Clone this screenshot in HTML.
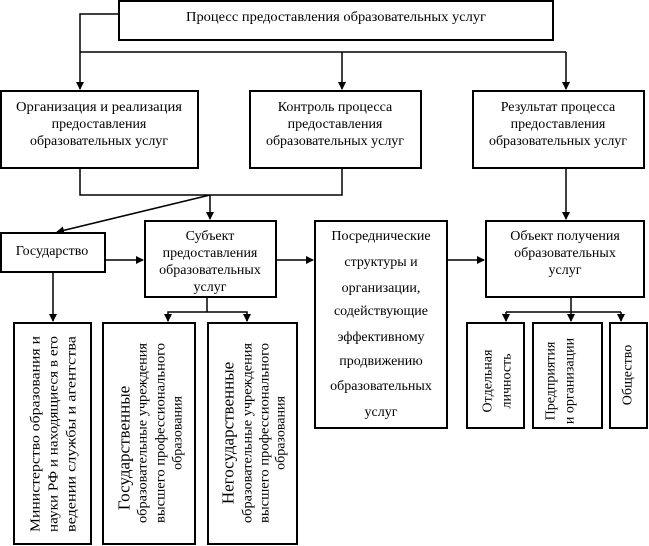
<!DOCTYPE html>
<html><head><meta charset="utf-8"><style>
html,body{margin:0;padding:0;background:#fff;}
svg{display:block;}
text{font-family:"Liberation Serif",serif;font-size:14px;fill:#000;}
</style></head><body>
<svg width="649" height="546" viewBox="0 0 649 546" xmlns="http://www.w3.org/2000/svg">
<defs><marker id="a" markerWidth="8" markerHeight="8" refX="7" refY="4" orient="auto" markerUnits="userSpaceOnUse"><path d="M0,0 L8,4 L0,8 z" fill="#000"/></marker></defs>
<g fill="none" stroke="#000" stroke-width="2">
<rect x="119" y="1" width="434" height="39"/>
<rect x="1" y="91" width="197" height="77"/>
<rect x="250" y="91" width="171" height="77"/>
<rect x="473" y="91" width="171" height="77"/>
<rect x="1" y="233" width="104" height="39"/>
<rect x="145" y="221" width="131" height="76"/>
<rect x="315" y="221" width="132" height="207"/>
<rect x="486" y="221" width="158" height="76"/>
<rect x="14" y="323" width="77" height="221"/>
<rect x="103" y="323" width="92" height="221"/>
<rect x="208" y="323" width="89" height="221"/>
<rect x="467" y="323" width="57" height="105"/>
<rect x="533" y="323" width="69" height="105"/>
<rect x="610" y="323" width="37" height="105"/>
</g>
<g fill="none" stroke="#000" stroke-width="1.5">
<polyline points="119,14 80,14 80,89" marker-end="url(#a)"/>
<polyline points="80,52 566,52"/>
<line x1="342" y1="52" x2="342" y2="89" marker-end="url(#a)"/>
<line x1="566" y1="52" x2="566" y2="89" marker-end="url(#a)"/>
<polyline points="80,168 80,195 342,195 342,168"/>
<line x1="210" y1="195" x2="210" y2="219" marker-end="url(#a)"/>
<line x1="210" y1="195" x2="57" y2="232" marker-end="url(#a)"/>
<line x1="566" y1="168" x2="566" y2="219" marker-end="url(#a)"/>
<line x1="105" y1="260" x2="143" y2="260" marker-end="url(#a)"/>
<line x1="276" y1="260" x2="313" y2="260" marker-end="url(#a)"/>
<line x1="447" y1="260" x2="484" y2="260" marker-end="url(#a)"/>
<line x1="53" y1="272" x2="53" y2="321" marker-end="url(#a)"/>
<line x1="207" y1="297" x2="207" y2="312"/>
<polyline points="168,321 168,312 247,312 247,321"/>
<line x1="168" y1="314" x2="168" y2="321" marker-end="url(#a)"/>
<line x1="247" y1="314" x2="247" y2="321" marker-end="url(#a)"/>
<line x1="571" y1="297" x2="571" y2="321" marker-end="url(#a)"/>
<polyline points="506,312 621,312"/>
<line x1="506" y1="312" x2="506" y2="321" marker-end="url(#a)"/>
<line x1="621" y1="312" x2="621" y2="321" marker-end="url(#a)"/>
</g>
<g text-anchor="middle">
<text x="336" y="21" textLength="300" lengthAdjust="spacingAndGlyphs">Процесс предоставления образовательных услуг</text>
<text x="99" y="111" textLength="166" lengthAdjust="spacingAndGlyphs">Организация и реализация</text>
<text x="99" y="128">предоставления</text>
<text x="99" y="145">образовательных услуг</text>
<text x="335" y="111">Контроль процесса</text>
<text x="335" y="128">предоставления</text>
<text x="335" y="145">образовательных услуг</text>
<text x="558" y="111">Результат процесса</text>
<text x="558" y="128">предоставления</text>
<text x="558" y="145">образовательных услуг</text>
<text x="52" y="255">Государство</text>
<text x="210" y="240">Субъект</text>
<text x="210" y="257">предоставления</text>
<text x="210" y="274">образовательных</text>
<text x="210" y="291">услуг</text>
<text x="381" y="240">Посреднические</text>
<text x="381" y="266">структуры и</text>
<text x="381" y="292">организации,</text>
<text x="381" y="315">содействующие</text>
<text x="381" y="341">эффективному</text>
<text x="381" y="365">продвижению</text>
<text x="381" y="390">образовательных</text>
<text x="381" y="416">услуг</text>
<text x="565" y="240">Объект получения</text>
<text x="565" y="257">образовательных</text>
<text x="565" y="274">услуг</text>
</g>
<g text-anchor="middle" dominant-baseline="central">
<text transform="translate(36,434) rotate(-90)" textLength="196" lengthAdjust="spacingAndGlyphs">Министерство образования и</text>
<text transform="translate(54,434) rotate(-90)" textLength="196" lengthAdjust="spacingAndGlyphs">науки РФ и находящиеся в его</text>
<text transform="translate(72,434) rotate(-90)" textLength="196" lengthAdjust="spacingAndGlyphs">ведении службы и агентства</text>
<text transform="translate(124,448) rotate(-90)" style="font-size:17px">Государственные</text>
<text transform="translate(143,433) rotate(-90)" textLength="180" lengthAdjust="spacingAndGlyphs">образовательные учреждения</text>
<text transform="translate(161,433) rotate(-90)" textLength="180" lengthAdjust="spacingAndGlyphs">высшего профессионального</text>
<text transform="translate(178,433) rotate(-90)">образования</text>
<text transform="translate(228,433) rotate(-90)" style="font-size:17px">Негосударственные</text>
<text transform="translate(248,433) rotate(-90)" textLength="180" lengthAdjust="spacingAndGlyphs">образовательные учреждения</text>
<text transform="translate(265,433) rotate(-90)" textLength="180" lengthAdjust="spacingAndGlyphs">высшего профессионального</text>
<text transform="translate(281,433) rotate(-90)">образования</text>
<text transform="translate(488,381) rotate(-90)">Отдельная</text>
<text transform="translate(507,381) rotate(-90)">личность</text>
<text transform="translate(551,381) rotate(-90)">Предприятия</text>
<text transform="translate(570,381) rotate(-90)">и организации</text>
<text transform="translate(628,375) rotate(-90)">Общество</text>
</g>
</svg>
</body></html>
